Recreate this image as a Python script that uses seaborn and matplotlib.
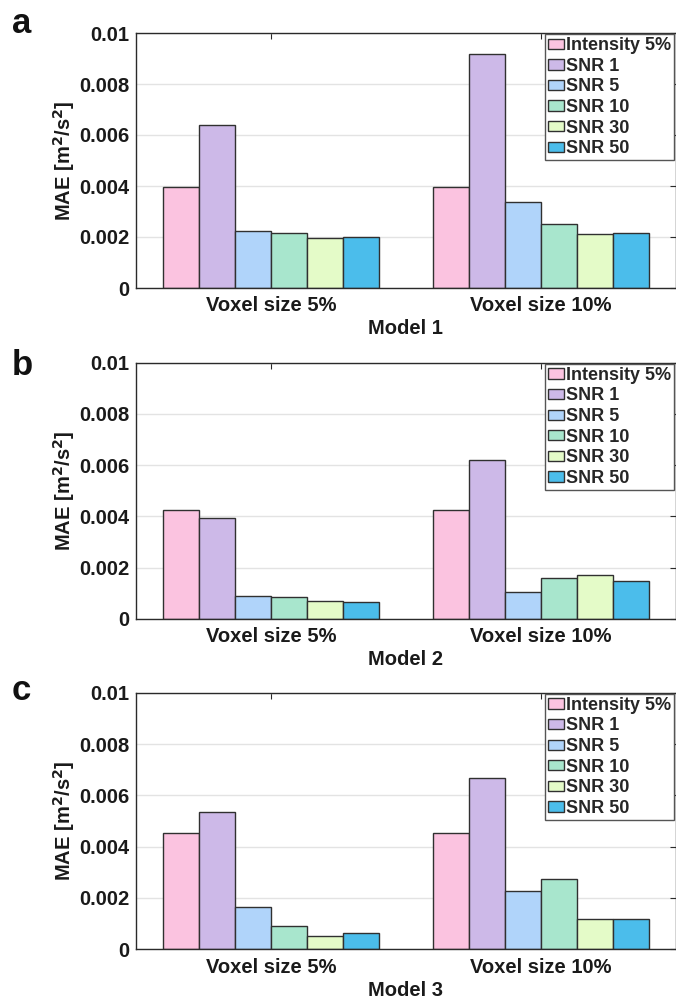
import matplotlib
matplotlib.use("Agg")
import matplotlib.pyplot as plt
import pandas as pd
import seaborn as sns

conditions = ["Intensity 5%", "SNR 1", "SNR 5", "SNR 10", "SNR 30", "SNR 50"]
voxel_groups = ["Voxel size 5%", "Voxel size 10%"]
model_names = ["Model 1", "Model 2", "Model 3"]
panel_letters = ["a", "b", "c"]

# MAE [m^2/s^2] per voxel-size group, ordered as `conditions`
model1_voxel5 = [0.00395, 0.00639, 0.00225, 0.00214, 0.00197, 0.00199]
model1_voxel10 = [0.00395, 0.00919, 0.00336, 0.00251, 0.00210, 0.00217]
model2_voxel5 = [0.00425, 0.00395, 0.00087, 0.00085, 0.00070, 0.00064]
model2_voxel10 = [0.00425, 0.00619, 0.00103, 0.00160, 0.00170, 0.00148]
model3_voxel5 = [0.00454, 0.00534, 0.00164, 0.00091, 0.00052, 0.00065]
model3_voxel10 = [0.00454, 0.00667, 0.00226, 0.00274, 0.00117, 0.00119]

y_ticks = [0, 0.002, 0.004, 0.006, 0.008, 0.01]
y_tick_labels = ["0", "0.002", "0.004", "0.006", "0.008", "0.01"]

palette = ["#fbc3e0", "#cdb9e8", "#b0d4fa", "#a8e6cd", "#e4fbc8", "#4bbdeb"]

models = [
    (model1_voxel5, model1_voxel10),
    (model2_voxel5, model2_voxel10),
    (model3_voxel5, model3_voxel10),
]

sns.set_style("white")
plt.rcParams["font.family"] = ["Liberation Sans", "DejaVu Sans"]
plt.rcParams["font.weight"] = "bold"

W, H = 676, 1002
fig = plt.figure(figsize=(W / 100, H / 100), dpi=100)

# axes boxes in pixels: (top, bottom)
boxes = [(33, 288), (362.7, 618.7), (692.7, 949.3)]
left_px, right_px = 136, 675.5
letter_baselines = [33, 375, 700]

spine_col = "#2a2a2a"

for i, ((v5, v10), name, letter, (top, bot)) in enumerate(
        zip(models, model_names, panel_letters, boxes)):
    ax = fig.add_axes([left_px / W, 1 - bot / H,
                       (right_px - left_px) / W, (bot - top) / H])
    rows = []
    for grp, vals in zip(voxel_groups, (v5, v10)):
        for cond, v in zip(conditions, vals):
            rows.append({"voxel": grp, "condition": cond, "mae": v})
    df = pd.DataFrame(rows)

    sns.barplot(data=df, x="voxel", y="mae", hue="condition",
                order=voxel_groups, hue_order=conditions, palette=palette,
                saturation=1, width=0.8, gap=0, errorbar=None,
                edgecolor="#303030", linewidth=1.0, ax=ax)

    ax.set_xlim(-0.5, 1.5)
    ax.set_ylim(0, 0.01)
    ax.set_yticks(y_ticks)
    ax.set_yticklabels(y_tick_labels)
    ax.set_axisbelow(True)
    ax.yaxis.grid(True, color="#e3e3e3", lw=1.0)
    ax.xaxis.grid(False)

    for s in ax.spines.values():
        s.set_visible(True)
        s.set_color(spine_col)
        s.set_linewidth(1.0)

    ax.tick_params(axis="both", direction="in", length=4, width=0.8,
                   color=spine_col, top=True, right=True,
                   labelsize=14.5, labelcolor="#1a1a1a")
    ax.tick_params(axis="y", pad=5)
    ax.tick_params(axis="x", pad=6)
    for lab in ax.get_xticklabels() + ax.get_yticklabels():
        lab.set_fontweight("bold")

    ax.set_xlabel(name, fontsize=14.5, fontweight="bold", color="#1a1a1a",
                  labelpad=3)
    ax.set_ylabel(r"MAE [m$^\mathbf{2}$/s$^\mathbf{2}$]", fontsize=14.5,
                  fontweight="bold", color="#1a1a1a")
    ax.yaxis.set_label_coords(-59 / (right_px - left_px), 0.5)

    handles, labels = ax.get_legend_handles_labels()
    if ax.get_legend() is not None:
        ax.get_legend().remove()
    leg = ax.legend(handles, labels, loc="upper right",
                    bbox_to_anchor=(1.0, 1.0), borderaxespad=0.08,
                    frameon=True, fancybox=False, framealpha=1,
                    edgecolor="#555555", handlelength=0.85,
                    handleheight=0.5, handletextpad=0.15,
                    labelspacing=0.2, borderpad=0.15,
                    prop={"size": 13, "weight": "bold"})
    leg.get_frame().set_linewidth(1.0)

    fig.text(12 / W, 1 - letter_baselines[i] / H, letter, fontsize=25,
             fontweight="bold", va="baseline", ha="left", color="#111111")

fig.savefig("out.png", dpi=100)
